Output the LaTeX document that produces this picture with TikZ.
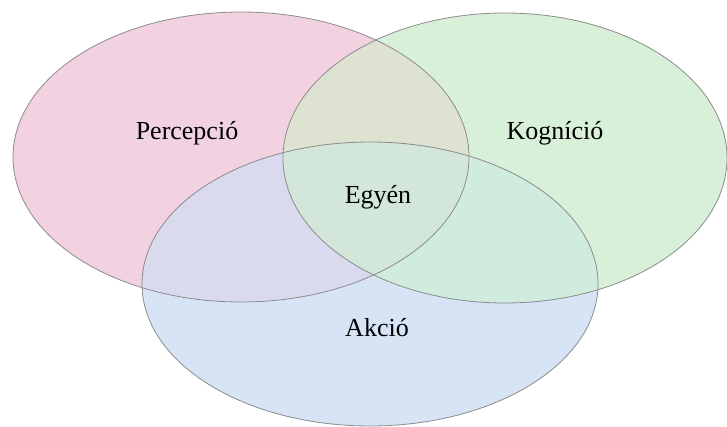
\documentclass[tikz,border=0pt]{standalone}
\usepackage{fontspec}
\setmainfont{Liberation Serif}
\definecolor{pinkc}{RGB}{242,210,224}
\definecolor{greenc}{RGB}{217,240,216}
\definecolor{bluec}{RGB}{214,228,246}
\definecolor{pgc}{RGB}{222,226,208}
\definecolor{pbc}{RGB}{218,218,238}
\definecolor{gbc}{RGB}{208,236,222}
\definecolor{pgbc}{RGB}{210,230,218}
\definecolor{edgec}{RGB}{140,140,140}
\begin{document}
\begin{tikzpicture}[x=1pt,y=-1pt,
  edge/.style={draw=edgec, line width=0.8pt},
  lbl/.style={font=\fontsize{26}{30}\selectfont, text=black}]
\useasboundingbox (0,0) rectangle (727,427);
\fill[white] (0,0) rectangle (727,427);
\def\elP{(241,157) ellipse [x radius=228, y radius=145]}
\def\elG{(505,158) ellipse [x radius=222, y radius=145]}
\def\elB{(370,284) ellipse [x radius=228, y radius=142]}
\fill[pinkc] \elP;
\fill[greenc] \elG;
\fill[bluec] \elB;
\begin{scope}\clip \elP; \fill[pgc] \elG; \fill[pbc] \elB; \end{scope}
\begin{scope}\clip \elG; \fill[gbc] \elB; \end{scope}
\begin{scope}\clip \elP; \clip \elG; \fill[pgbc] \elB; \end{scope}
\draw[edge] \elP;
\draw[edge] \elG;
\draw[edge] \elB;
\node[lbl] (perc) at (187,133) {Percepció};
\node[lbl] (kogn) at (555,133) {Kogníció};
\node[lbl] (egyen) at (378,197) {Egyén};
\node[lbl] (akcio) at (377,328) {Akció};
\end{tikzpicture}
\end{document}
